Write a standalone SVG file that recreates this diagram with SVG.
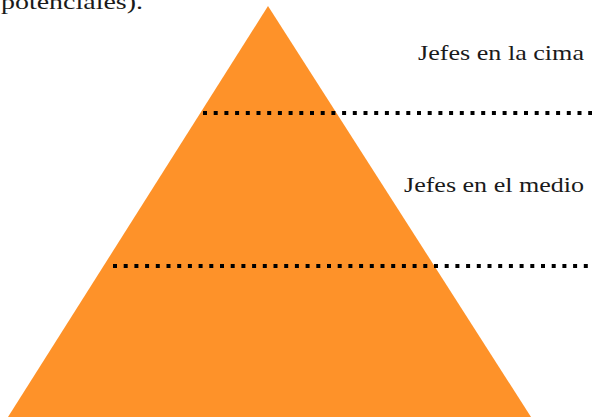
<svg xmlns="http://www.w3.org/2000/svg" width="592" height="417" viewBox="0 0 592 417">
<style>
.dot{stroke:#000;stroke-width:4;stroke-dasharray:4 6.7;fill:none}
</style>
<rect width="592" height="417" fill="#fff"/>
<g id="pyramid">
<polygon points="268,6 531,417 8,417" fill="#FE9229"/>
</g>
<g id="connectors">
<line class="dot" x1="203" y1="113" x2="592" y2="113"/>
<line class="dot" x1="113" y1="266" x2="592" y2="266"/>
</g>
<g font-family="Liberation Serif, serif" font-size="22" fill="#1a1a1a">
<g id="label-top">
<text x="584" y="60" text-anchor="end" textLength="166" lengthAdjust="spacingAndGlyphs">Jefes en la cima</text>
</g>
<g id="label-middle">
<text x="584" y="192" text-anchor="end" textLength="180" lengthAdjust="spacingAndGlyphs">Jefes en el medio</text>
</g>
<g id="caption">
<text x="1" y="9" textLength="142" lengthAdjust="spacingAndGlyphs">potenciales).</text>
</g>
</g>
</svg>
